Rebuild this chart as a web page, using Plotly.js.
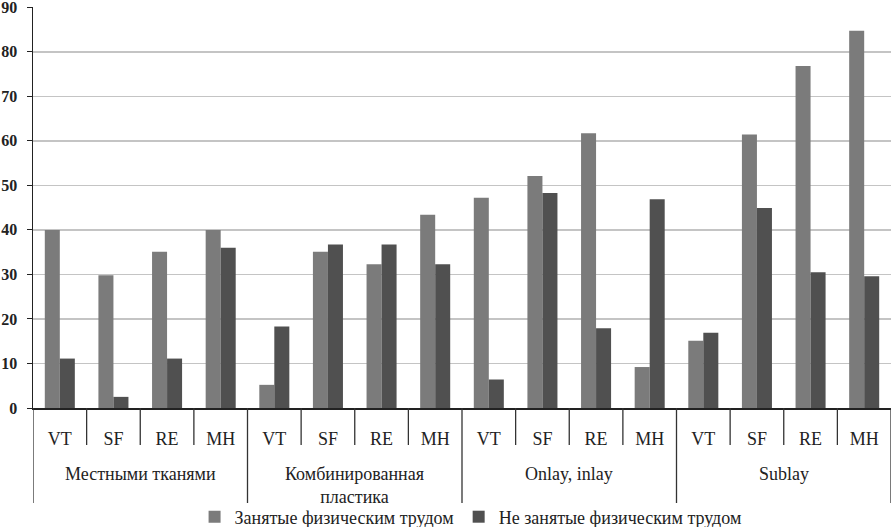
<!DOCTYPE html>
<html>
<head>
<meta charset="utf-8">
<script src="https://cdn.plot.ly/plotly-3.0.1.min.js"></script>
<style>html,body{margin:0;padding:0;background:#fff;}#chart{width:893px;height:527px;}</style>
</head>
<body>
<div id="chart"></div>
<script>
const groups = ["Местными тканями", "Комбинированная<br>пластика", "Onlay, inlay", "Sublay"];
const subs = ["VT", "SF", "RE", "MH"];
const seriesNames = ["Занятые физическим трудом", "Не занятые физическим трудом"];
const busy = [40, 29.8, 35.1, 40, 5.2, 35.1, 32.3, 43.4, 47.2, 52.1, 61.7, 9.2, 15.1, 61.4, 76.8, 84.7];
const notBusy = [11.1, 2.5, 11.1, 36, 18.3, 36.7, 36.7, 32.3, 6.4, 48.3, 17.9, 46.9, 16.9, 44.9, 30.5, 29.6];
const yTicks = [0, 10, 20, 30, 40, 50, 60, 70, 80, 90];

const FAM = "Liberation Serif";
const TXT = "#222";
const LINE = "#333";

// category positions (index along the axis)
const idx = [], subText = [];
groups.forEach((g, gi) => subs.forEach((s, si) => { idx.push(gi * subs.length + si); subText.push(s); }));
const n = idx.length;

// plot geometry helpers (paper fractions below the axis)
const plotH = 527 - 7 - 119;
const px = p => -p / plotH;

const shapes = [];
// short separators between every category
for (let k = 0; k <= n; k++) {
  if (k % subs.length === 0) continue;
  shapes.push({type: "line", xref: "x", yref: "paper", x0: k - 0.5, x1: k - 0.5, y0: 0, y1: px(37),
               line: {color: LINE, width: 1.3}});
}
// long separators between groups
for (let g = 0; g <= groups.length; g++) {
  const xb = g * subs.length - 0.5;
  shapes.push({type: "line", xref: "x", yref: "paper", x0: xb, x1: xb, y0: 0, y1: px(95),
               line: {color: LINE, width: 1.3}});
}

const annotations = groups.map((g, gi) => ({
  xref: "x", yref: "paper", x: gi * subs.length + (subs.length - 1) / 2, y: px(54),
  yanchor: "top", xanchor: "center", text: g, showarrow: false,
  font: {family: FAM, size: 18, color: TXT}
}));

const traces = [
  {type: "bar", name: seriesNames[0], x: idx, y: busy, marker: {color: "#7b7b7b"}},
  {type: "bar", name: seriesNames[1], x: idx, y: notBusy, marker: {color: "#505050"}}
];

const layout = {
  width: 893, height: 527,
  margin: {l: 33, r: 2, t: 7, b: 119, autoexpand: false},
  paper_bgcolor: "#fff", plot_bgcolor: "#fff",
  barmode: "group", bargap: 0.44, bargroupgap: 0,
  font: {family: FAM, size: 16, color: TXT},
  showlegend: true,
  legend: {orientation: "h", x: 0.51, xanchor: "center", y: px(109), yanchor: "middle",
           font: {family: FAM, size: 18, color: TXT}, itemwidth: 30, bgcolor: "rgba(0,0,0,0)"},
  xaxis: {
    type: "linear",
    range: [-0.5, n - 0.5],
    tickvals: idx, ticktext: subText,
    showline: true, linecolor: "#222", linewidth: 1.5,
    ticks: "",
    ticklabelstandoff: 14,
    tickfont: {family: FAM, size: 18, color: TXT},
    showgrid: false, zeroline: false, fixedrange: true
  },
  yaxis: {
    range: [0, 90.05], tickvals: yTicks, ticktext: yTicks.map(String),
    showline: true, linecolor: "#222", linewidth: 1.5,
    ticks: "outside", ticklen: 5, tickcolor: "#222",
    ticklabelstandoff: 6, ticklabeloverflow: "allow",
    showgrid: true, gridcolor: "#c4c4c4", gridwidth: 1.5,
    tickfont: {family: FAM, size: 16, color: TXT, weight: "bold"},
    zeroline: false
  },
  shapes: shapes,
  annotations: annotations
};

Plotly.newPlot("chart", traces, layout, {displayModeBar: false, staticPlot: true});
</script>
</body>
</html>
